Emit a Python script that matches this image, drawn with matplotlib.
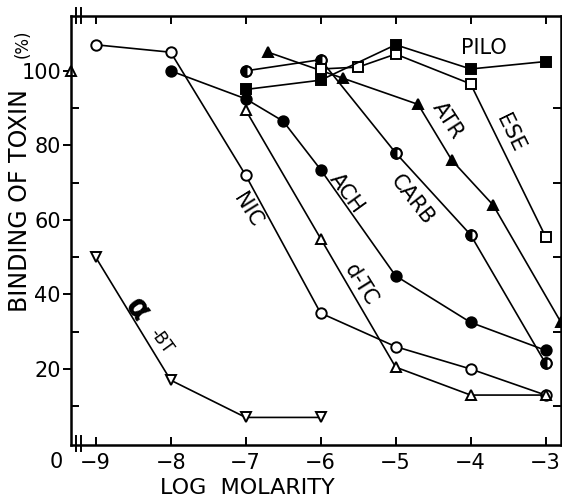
import numpy as np
import matplotlib
matplotlib.use("Agg")
import matplotlib.pyplot as plt
from matplotlib import font_manager

# Pick a narrow sans if one is installed
names = set(f.name for f in font_manager.fontManager.ttflist)
family = "DejaVu Sans"
for cand in ["Liberation Sans Narrow", "DejaVu Sans Condensed"]:
    if cand in names:
        family = cand
        break
print(family, sorted(names))
plt.rcParams["font.family"] = family

# data (log molarity, % binding)
nic_x = [-9, -8, -7, -6, -5, -4, -3]
nic_y = [107, 105, 72, 35, 26, 20, 13]
ach_x = [-8, -7, -6.5, -6, -5, -4, -3]
ach_y = [100, 92.5, 86.5, 73.5, 45, 32.5, 25]
carb_x = [-7, -6, -5, -4, -3]
carb_y = [100, 103, 78, 56, 21.5]
atr_x = [-6.7, -5.7, -4.7, -4.25, -3.7, -2.8]
atr_y = [105, 98, 91, 76, 64, 32.7]
ese_x = [-6, -5.5, -5, -4, -3]
ese_y = [100.5, 101, 104.5, 96.5, 55.5]
pilo_x = [-7, -6, -5, -4, -3]
pilo_y = [95, 97.5, 107, 100.5, 102.5]
dtc_x = [-7, -6, -5, -4, -3]
dtc_y = [89.5, 55, 20.5, 13, 13]
abt_x = [-9, -8, -7, -6]
abt_y = [50, 17, 7, 7]
control_x = [-9.33]
control_y = [100]

xticks = [-9, -8, -7, -6, -5, -4, -3]
yticks = [20, 40, 60, 80, 100]

fig = plt.figure(figsize=(5.62, 5.0), dpi=100)
ax = fig.add_axes([0.1258, 0.11, 0.8722, 0.8586])

lw = 1.2
ms = 7.5
common = dict(color="black", lw=lw, ms=ms, mew=1.4, clip_on=False)

ax.plot(nic_x, nic_y, marker="o", mfc="white", **common)
ax.plot(ach_x, ach_y, marker="o", mfc="black", **common)
ax.plot(carb_x, carb_y, marker="o", mfc="white", **common)
ax.plot(carb_x, carb_y, ls="none", marker="o", fillstyle="left", mfc="black",
        mfcalt="white", color="black", ms=ms, mew=1.4, clip_on=False)
ax.plot(atr_x, atr_y, marker="^", mfc="black", color="black", lw=lw, ms=ms, mew=1.4)
ax.plot(ese_x, ese_y, marker="s", mfc="white", **common)
ax.plot(pilo_x, pilo_y, marker="s", mfc="black", **common)
ax.plot(dtc_x, dtc_y, marker="^", mfc="white", **common)
ax.plot(abt_x, abt_y, marker="v", mfc="white", **common)
ax.plot(control_x, control_y, ls="none", marker="^", mfc="white", **common)

ax.set_xlim(-9.333, -2.796)
ax.set_ylim(-0.4, 114.8)

for s in ax.spines.values():
    s.set_linewidth(1.8)

ax.set_xticks(xticks)
ax.set_xticklabels(["\u22129", "\u22128", "\u22127", "\u22126", "\u22125", "\u22124", "\u22123"])
ax.set_yticks(yticks)
ax.set_yticks([10, 30, 50, 70, 90], minor=True)
ax.tick_params(axis="x", which="both", direction="in", top=True, length=6, width=1.4,
               labelsize=15, pad=6)
ax.tick_params(axis="y", which="major", direction="out", length=6, width=1.4,
               labelsize=15, pad=1)
ax.tick_params(axis="y", which="minor", direction="in", length=6, width=1.4)
ax.tick_params(axis="y", which="both", right=True)

# axis break marks near the origin
for bx in [-9.26, -9.20]:
    ax.plot([bx, bx], [-2, 2], color="black", lw=1.4, clip_on=False)
    ax.plot([bx, bx], [112.8, 116.8], color="black", lw=1.4, clip_on=False)

# curve labels
ax.text(-3.82, 106, "PILO", fontsize=15, ha="center", va="center")
ax.text(-3.48, 83.3, "ESE", fontsize=15, ha="center", va="center", rotation=-64)
ax.text(-4.30, 86.7, "ATR", fontsize=15, ha="center", va="center", rotation=-57)
ax.text(-4.78, 65.3, "CARB", fontsize=15, ha="center", va="center", rotation=-52)
ax.text(-5.65, 67.2, "ACH", fontsize=15, ha="center", va="center", rotation=-54)
ax.text(-6.98, 62.6, "NIC", fontsize=15, ha="center", va="center", rotation=-58)
ax.text(-5.46, 42.6, "d-TC", fontsize=15, ha="center", va="center", rotation=-58)
ax.text(-8.45, 35.9, "\u03b1", fontsize=22, fontweight="bold", ha="center", va="center", rotation=-54)
ax.text(-8.12, 27.5, "-BT", fontsize=12, ha="center", va="center", rotation=-54)

fig.text(56.7 / 562, 1 - 462 / 500, "0", fontsize=15, ha="center", va="center")
fig.text(20 / 562, 1 - 201 / 500, "BINDING OF TOXIN", fontsize=17, rotation=90,
         ha="center", va="center")
fig.text(23 / 562, 1 - 44 / 500, "(%)", fontsize=12, rotation=90, ha="center", va="center")
fig.text(247 / 562, 1 - 488 / 500, "LOG  MOLARITY", fontsize=16, ha="center", va="center")

fig.savefig("out.png", dpi=100)
